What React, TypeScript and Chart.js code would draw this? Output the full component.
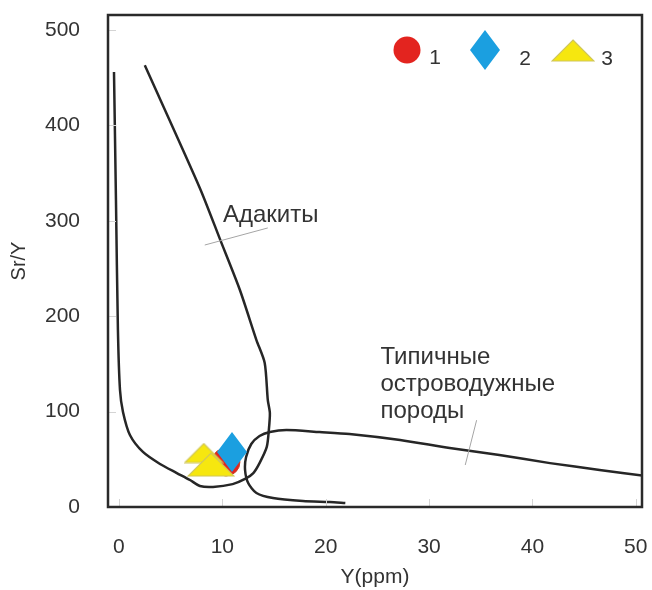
import { useEffect, useRef } from "react";
import { Chart, registerables } from "chart.js";

Chart.register(...registerables);

// ---- data ----
const xTicks = [0, 10, 20, 30, 40, 50];
const yTicks = [0, 100, 200, 300, 400, 500];

// Adakite field boundary (Y ppm, Sr/Y)
const adakiteX = [-0.48, -0.29, -0.1, 0.1, 0.39, 1.06, 2.32, 3.97, 5.6, 6.87, 7.83, 9.1, 11.0, 12.2, 13.0, 13.6, 14.3, 14.5, 14.6, 14.4, 14.1, 13.3, 11.7, 9.8, 7.8, 2.5];
const adakiteY = [456, 322, 185.5, 122.6, 99.6, 75.5, 57.7, 45.1, 35.6, 28.3, 22, 21, 24, 29.4, 35.6, 46, 63, 80.7, 98.5, 112, 151, 175, 227.5, 280, 335, 463];

// Typical island-arc field boundary
const arcX = [50.9, 46.5, 41.7, 36.8, 32.0, 27.2, 22.3, 19.4, 16.2, 14.6, 13.6, 12.8, 12.3, 12.2, 12.5, 13.3, 14.9, 17.8, 20.4, 21.9];
const arcY = [32.5, 38.8, 46, 54.5, 61.8, 70.2, 76.5, 78.6, 80.7, 78.6, 74.4, 66, 52.4, 38.8, 25.2, 14.7, 9.4, 6.3, 5.2, 4.2];

// samples
const group1X = [10.35];
const group1Y = [47.2];
const group2X = [10.93];
const group2Y = [57.7];
const group3X = [8.2, 8.9];
const group3Y = [56.6, 44.5];

const legendLabels = ["1", "2", "3"];
const adakiteLabel = "Адакиты";
const arcLabel = ["Типичные", "островодужные", "породы"];
const xTitle = "Y(ppm)";
const yTitle = "Sr/Y";

// annotation anchors (data coords, text baseline-left)
const adakiteLabelAt = { x: 10.06, y: 298.7 };
const adakiteLeader = { x1: 8.3, y1: 274.6, x2: 14.4, y2: 292.5 };
const arcLabelAt = { x: 25.3, y: 149.9 };
const arcLeader = { x1: 34.6, y1: 91, x2: 33.5, y2: 44 };

const FONT = '"Liberation Sans", Arial, Helvetica, sans-serif';
const TEXT = "#333333";
const RED = "#e3241f";
const BLUE = "#1b9fe0";
const YELLOW = "#f6e70f";
const YELLOW_EDGE = "#cfc65c";

function makeDiamond(w: number, h: number, fill: string) {
  const c = document.createElement("canvas");
  c.width = w;
  c.height = h;
  const g = c.getContext("2d")!;
  g.beginPath();
  g.moveTo(w / 2, 0);
  g.lineTo(w, h / 2);
  g.lineTo(w / 2, h);
  g.lineTo(0, h / 2);
  g.closePath();
  g.fillStyle = fill;
  g.fill();
  return c;
}

function makeTriangle(w: number, h: number, fill: string, stroke: string) {
  const c = document.createElement("canvas");
  c.width = w;
  c.height = h;
  const g = c.getContext("2d")!;
  g.beginPath();
  g.moveTo(w / 2, 1);
  g.lineTo(w - 1, h - 1);
  g.lineTo(1, h - 1);
  g.closePath();
  g.fillStyle = fill;
  g.fill();
  g.strokeStyle = stroke;
  g.lineWidth = 1.2;
  g.stroke();
  return c;
}

export default function App() {
  const ref = useRef<HTMLCanvasElement | null>(null);

  useEffect(() => {
    if (!ref.current) return;
    const diamond = makeDiamond(30, 40, BLUE);
    const triSmall = makeTriangle(40, 21, YELLOW, YELLOW_EDGE);
    const triLarge = makeTriangle(48, 25, YELLOW, YELLOW_EDGE);
    const triLegend = makeTriangle(44, 23, YELLOW, YELLOW_EDGE);

    const decor = {
      id: "decor",
      afterDatasetsDraw(chart: any) {
        const { ctx, chartArea: a, scales } = chart;
        const sx = scales.x;
        const sy = scales.y;
        ctx.save();
        // faint inner tick marks
        ctx.strokeStyle = "#d4d4d4";
        ctx.lineWidth = 1;
        for (const v of xTicks) {
          const px = Math.round(sx.getPixelForValue(v)) + 0.5;
          ctx.beginPath();
          ctx.moveTo(px, a.bottom);
          ctx.lineTo(px, a.bottom - 8);
          ctx.stroke();
        }
        for (const v of yTicks) {
          const py = Math.round(sy.getPixelForValue(v)) + 0.5;
          ctx.beginPath();
          ctx.moveTo(a.left, py);
          ctx.lineTo(a.left + 8, py);
          ctx.stroke();
        }
        // frame
        ctx.strokeStyle = "#2a2a2a";
        ctx.lineWidth = 2.5;
        ctx.strokeRect(a.left, a.top, a.right - a.left, a.bottom - a.top);
        // leader lines
        ctx.strokeStyle = "#a5a5a5";
        ctx.lineWidth = 1;
        for (const l of [adakiteLeader, arcLeader]) {
          ctx.beginPath();
          ctx.moveTo(sx.getPixelForValue(l.x1), sy.getPixelForValue(l.y1));
          ctx.lineTo(sx.getPixelForValue(l.x2), sy.getPixelForValue(l.y2));
          ctx.stroke();
        }
        // labels
        ctx.fillStyle = TEXT;
        ctx.font = `24px ${FONT}`;
        ctx.textAlign = "left";
        ctx.textBaseline = "alphabetic";
        ctx.fillText(adakiteLabel, sx.getPixelForValue(adakiteLabelAt.x), sy.getPixelForValue(adakiteLabelAt.y));
        const ax = sx.getPixelForValue(arcLabelAt.x);
        const ay = sy.getPixelForValue(arcLabelAt.y);
        arcLabel.forEach((t, i) => ctx.fillText(t, ax, ay + i * 27));
        // legend
        const ly = a.top + 35;
        ctx.beginPath();
        ctx.arc(a.right - 235, ly, 13.5, 0, Math.PI * 2);
        ctx.fillStyle = RED;
        ctx.fill();
        ctx.drawImage(diamond, a.right - 157 - 15, ly - 20);
        ctx.drawImage(triLegend, a.right - 69 - 22, ly - 11);
        ctx.fillStyle = TEXT;
        ctx.font = `21px ${FONT}`;
        ctx.textAlign = "center";
        ctx.fillText(legendLabels[0], a.right - 207, a.top + 49);
        ctx.fillText(legendLabels[1], a.right - 117, a.top + 50);
        ctx.fillText(legendLabels[2], a.right - 35, a.top + 50);
        ctx.restore();
      },
    };

    const line = (xs: number[], ys: number[]) => xs.map((v, i) => ({ x: v, y: ys[i] }));

    const hiddenGrid = {
      display: true,
      drawOnChartArea: false,
      drawTicks: true,
      tickLength: 28,
      color: "rgba(0,0,0,0)",
    };

    const chart = new Chart(ref.current, {
      type: "scatter",
      data: {
        datasets: [
          {
            label: "2",
            data: line(group2X, group2Y),
            pointStyle: diamond as any,
            pointRadius: 20,
            order: 0,
          },
          {
            label: "3",
            data: line(group3X, group3Y),
            pointStyle: [triSmall, triLarge] as any,
            pointRadius: 20,
            order: 1,
          },
          {
            label: "1",
            data: line(group1X, group1Y),
            pointStyle: "circle",
            pointRadius: 14,
            backgroundColor: RED,
            borderColor: "#c9401f",
            borderWidth: 1,
            order: 2,
          },
          {
            label: "Адакиты",
            data: line(adakiteX, adakiteY),
            showLine: true,
            borderColor: "#262626",
            borderWidth: 2.5,
            pointRadius: 0,
            tension: 0.25,
            order: 3,
          },
          {
            label: "Островодужные",
            data: line(arcX, arcY),
            showLine: true,
            borderColor: "#262626",
            borderWidth: 2.5,
            pointRadius: 0,
            tension: 0.25,
            order: 3,
          },
        ],
      },
      options: {
        responsive: false,
        animation: false,
        events: [],
        layout: { autoPadding: false, padding: { top: 15, right: 10, left: 0, bottom: 0 } },
        plugins: { legend: { display: false }, tooltip: { enabled: false } },
        scales: {
          x: {
            type: "linear",
            min: -1.06,
            max: 50.6,
            grid: hiddenGrid,
            border: { display: false },
            afterBuildTicks: (s: any) => {
              s.ticks = xTicks.map((v) => ({ value: v }));
            },
            afterFit: (s: any) => {
              s.height = 83;
            },
            ticks: { padding: 0, color: TEXT, font: { size: 21, family: FONT } },
            title: {
              display: true,
              text: xTitle,
              color: TEXT,
              font: { size: 21, family: FONT },
              padding: { top: 0, bottom: 0 },
            },
          },
          y: {
            type: "linear",
            min: 0,
            max: 515.7,
            grid: hiddenGrid,
            border: { display: false },
            afterBuildTicks: (s: any) => {
              s.ticks = yTicks.map((v) => ({ value: v }));
            },
            afterFit: (s: any) => {
              s.width = 108;
            },
            ticks: { padding: 0, color: TEXT, font: { size: 21, family: FONT } },
            title: {
              display: true,
              text: yTitle,
              color: TEXT,
              font: { size: 20, family: FONT },
              padding: { top: 7, bottom: 0 },
            },
          },
        },
      },
      plugins: [decor],
    });
    return () => chart.destroy();
  }, []);

  return (
    <div style={{ position: "absolute", left: 0, top: 0, width: 652, height: 590, background: "#fff" }}>
      <canvas ref={ref} width={652} height={590} />
    </div>
  );
}
